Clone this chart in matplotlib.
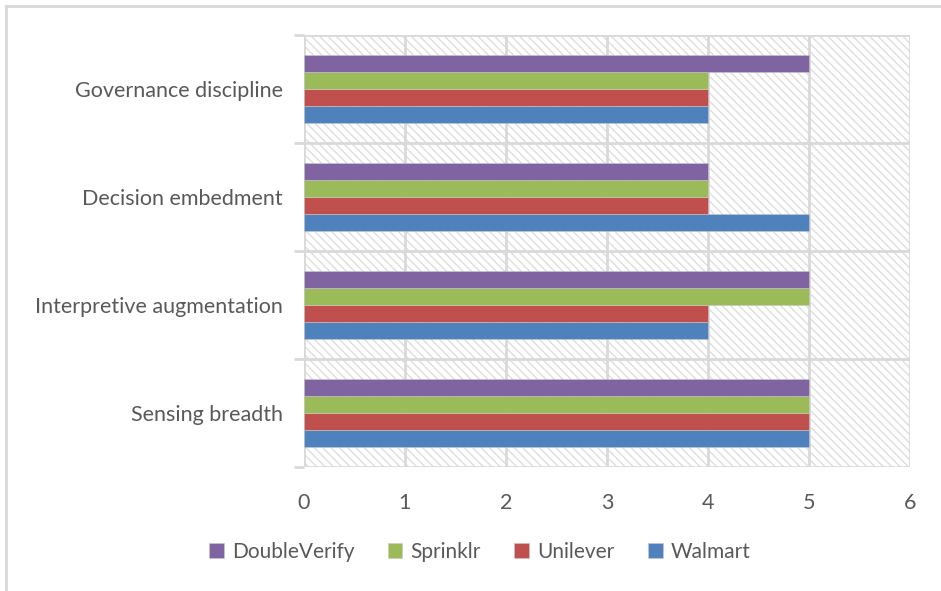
import numpy as np
import matplotlib.pyplot as plt
from matplotlib.patches import Rectangle
from matplotlib.lines import Line2D

plt.rcParams['font.family'] = ['Lato', 'DejaVu Sans']
plt.rcParams['hatch.linewidth'] = 1.0

# data (bottom to top on the chart)
categories = ["Sensing breadth", "Interpretive augmentation",
              "Decision embedment", "Governance discipline"]
walmart = [5, 4, 5, 4]
unilever = [5, 4, 4, 4]
sprinklr = [5, 5, 4, 4]
doubleverify = [5, 5, 4, 5]

series = [("Walmart", walmart, "#4F81BD"),
          ("Unilever", unilever, "#C0504D"),
          ("Sprinklr", sprinklr, "#9BBB59"),
          ("DoubleVerify", doubleverify, "#8064A2")]

grid_c = "#D9D9D9"
text_c = "#595959"

fig = plt.figure(figsize=(9.41, 5.91), dpi=100)
ax = fig.add_axes([0.323, 0.21, 0.644, 0.731])

# hatched plot area
ax.add_patch(Rectangle((0, -0.5), 6, 4, facecolor="white", edgecolor="#DEDEDE",
                       hatch="\\\\\\\\", linewidth=0, zorder=0))

y = np.arange(len(categories))
h = 0.157
for i, (name, vals, col) in enumerate(series):
    ax.barh(y + (i - 1.5) * h, vals, height=h, color=col, label=name,
            edgecolor="#c8c8c8", linewidth=0.4, zorder=3)

ax.set_xlim(0, 6)
ax.set_ylim(-0.5, len(categories) - 0.5)
ax.set_xticks(range(7))
ax.set_yticks(y)
ax.set_yticklabels(categories)
ax.set_yticks(np.arange(-0.5, len(categories)), minor=True)

for xv in range(7):
    ax.axvline(xv, color=grid_c, lw=2, zorder=1)
for yv in np.arange(-0.5, len(categories)):
    ax.axhline(yv, color=grid_c, lw=2, zorder=1)

for s in ax.spines.values():
    s.set_visible(False)

ax.tick_params(axis="y", which="major", length=0, pad=15, labelsize=15.5, labelcolor=text_c)
ax.tick_params(axis="y", which="minor", length=7, width=2, color=grid_c)
ax.tick_params(axis="x", length=0, pad=19, labelsize=15.5, labelcolor=text_c)

handles, labels = ax.get_legend_handles_labels()
fig.legend(handles[::-1], labels[::-1], loc="center", bbox_to_anchor=(0.51, 0.066),
           ncol=4, frameon=False, fontsize=15, labelcolor=text_c,
           handlelength=0.7, handleheight=0.7, handletextpad=0.4, columnspacing=1.6)

# outer chart border (top and left visible)
fig.add_artist(Line2D([6 / 941, 1], [1 - 5.5 / 591, 1 - 5.5 / 591], color=grid_c, lw=2))
fig.add_artist(Line2D([6 / 941, 6 / 941], [0, 1 - 5.5 / 591], color=grid_c, lw=2))

fig.savefig("out.png", dpi=100)
